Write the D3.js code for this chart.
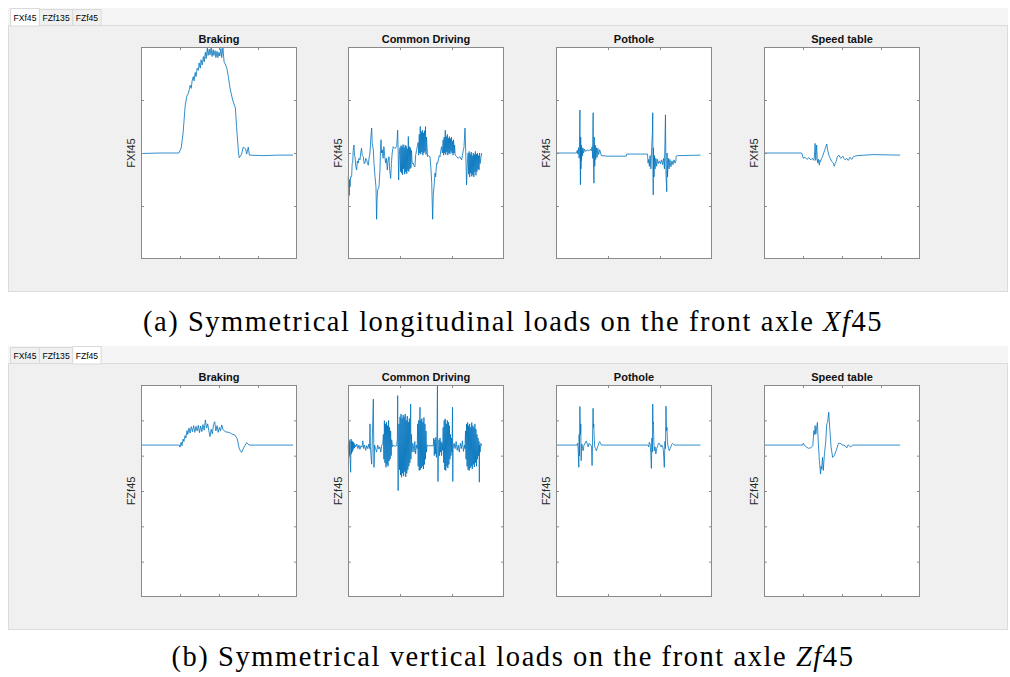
<!DOCTYPE html>
<html>
<head>
<meta charset="utf-8">
<script src="https://cdn.jsdelivr.net/npm/d3@7"></script>
<style>
  body { margin: 0; background: #fff; }
  svg { display: block; }
</style>
</head>
<body>
<div id="wrapper"></div>
<script>
// tab names and panel setup
const tabNames = ["FXf45", "FZf135", "FZf45"];
const panelTitles = ["Braking", "Common Driving", "Pothole", "Speed table"];
const xDomains = [[0, 40], [0, 300], [0, 30], [0, 40]];
const xTickValues = [[10, 20, 30], [100, 200], [10, 20], [10, 20, 30]];
const fxDomain = [-2, 2];
const fxTickValues = [-1, 0, 1];
const fzDomain = [0, 6];
const fzTickValues = [1, 2, 3, 4, 5];

// FXf45 signals  [time, load]
const fxBraking = [[0,-0.01],[5,0.0],[9.7,0.0],[10.3,0.09],[10.8,0.38],[11.3,0.87],[11.7,1.06],[12.1,1.12],[12.4,1.2],[12.6,1.28],[12.9,1.22],[13.1,1.36],[13.4,1.44],[13.6,1.36],[13.9,1.52],[14.1,1.44],[14.4,1.6],[14.7,1.56],[14.9,1.7],[15.2,1.6],[15.4,1.76],[15.7,1.66],[16.0,1.82],[16.2,1.72],[16.5,1.9],[16.7,1.78],[17.0,1.98],[17.2,1.84],[17.5,1.96],[17.7,1.85],[18.0,1.99],[18.2,1.82],[18.5,1.95],[18.7,1.84],[19.0,1.93],[19.2,1.8],[19.5,1.92],[19.7,1.8],[20.0,1.9],[20.2,1.83],[20.5,1.97],[20.7,1.8],[21.0,1.99],[21.3,1.72],[21.6,1.68],[22.0,1.60],[22.4,1.44],[22.8,1.23],[23.5,1.0],[24.2,0.85],[24.5,0.5],[25.0,0.0],[25.2,-0.09],[25.8,-0.02],[26.2,0.11],[26.8,0.08],[27.1,-0.02],[27.5,0.11],[27.8,-0.04],[31.3,-0.05],[35,-0.04],[39,-0.04]];

const fxCommon = [[0.6,-0.45],[1.0,-0.95],[1.6,-0.55],[2.4,-0.80],[3.2,-0.5],[3.8,-0.64],[5,-0.45],[7,-0.45],[8,-0.2],[9,-0.19],[10,0.05],[11.5,0.15],[12.5,-0.05],[13.5,-0.07],[15,-0.25],[16.7,-0.32],[18,-0.15],[19.9,-0.19],[21,-0.1],[23,-0.13],[24.5,0.0],[26,0.09],[27.5,-0.05],[29.5,-0.07],[31,-0.2],[32.7,-0.19],[34,-0.1],[35.9,-0.13],[37.5,-0.2],[39,-0.23],[40.5,-0.1],[42.3,0.0],[44,0.3],[45.5,0.47],[46.5,0.2],[48.7,0.06],[50,-0.2],[52,-0.45],[53.8,-0.64],[55,-1.25],[56,-0.85],[57,-0.70],[59.6,-0.64],[61.5,-0.32],[62.5,0.05],[63.5,0.25],[64.5,0.0],[66,0.06],[67.5,-0.1],[69,0.12],[70.5,-0.05],[72.4,-0.19],[74,-0.1],[75.6,-0.32],[77,-0.15],[78.8,-0.07],[80,-0.3],[82,-0.48],[83.5,-0.2],[85,0.0],[87,0.12],[90,0.09],[92,0.1],[93.6,0.12],[95.5,0.43],[96.5,0.0],[97.4,-0.51],[98.5,-0.05],
  [100,0.1],[101,-0.35],[102,0.14],[103,-0.38],[104,0.12],[105,-0.41],[106,0.16],[107,-0.3],[108,0.1],[109,-0.4],[110,0.15],[111,-0.36],[112,0.13],[113,-0.39],[114,0.08],[115,-0.33],[116,0.31],[117,-0.35],[118,0.12],[119,-0.3],[120,0.1],[121,-0.28],[122,0.05],
  [123.5,-0.2],[125.6,-0.19],[127,-0.25],[128.8,-0.26],[130,-0.05],[132,0.06],
  [135,0.2],[136,-0.04],[137,0.35],[138,0.0],[139,0.5],[140,-0.02],[141,0.4],[142,0.02],[143,0.43],[144,-0.04],[145,0.38],[146,0.0],[147,0.42],[148,0.03],[149,0.5],[150,-0.03],[151,0.3],
  [153,-0.07],[155,-0.05],[157.7,-0.07],[159.5,-0.3],[161,-0.57],[162.8,-1.25],[164,-0.8],[165.4,-0.64],[167.3,-0.38],[168.5,-0.45],[170.5,-0.19],[172,-0.2],[173.7,-0.13],[175.5,-0.05],[176.9,-0.07],[178.5,0.05],[180,0.12],[181.5,0.0],
  [183,0.25],[184,-0.04],[185,0.3],[186,0.0],[187,0.43],[188,-0.03],[189,0.31],[190,0.02],[191,0.35],[192,-0.04],[193,0.28],[194,0.0],[195,0.31],[196,-0.02],[197,0.27],[198,0.03],[199,0.3],[200,0.0],[201,0.22],[202,-0.04],[203,0.25],[204,0.0],[205,0.15],[206,-0.04],
  [207.5,-0.05],[209,-0.07],[212,-0.10],[215,-0.07],[218.6,-0.13],[220,-0.05],[221.8,0.06],[223,0.1],[225,0.47],[226.5,0.0],[228,-0.60],[229.5,-0.2],
  [231,0.0],[232,-0.4],[233,0.03],[234,-0.45],[235,-0.02],[236,-0.38],[237,0.02],[238,-0.44],[239,-0.05],[240,-0.41],[241,0.0],[242,-0.45],[243,-0.03],[244,-0.36],[245,0.03],[246,-0.42],[247,-0.02],[248,-0.35],[249,0.0],[250,-0.3],[251,-0.05],[252,-0.32],[253,0.0],[254,-0.2],[257,0.0]];

const fxPothole = [[0,0],[3.9,0.0],[4.1,0.05],[4.2,-0.02],[4.35,0.1],[4.45,-0.1],[4.55,0.35],[4.6,0.81],[4.65,-0.2],[4.7,-0.60],[4.75,0.3],[4.8,-0.3],[4.85,0.15],[4.9,-0.15],[5.0,0.1],[5.1,-0.05],[5.2,0.09],[5.3,0.0],[5.5,0.07],[5.7,0.03],[6.0,0.06],[6.3,0.04],[6.6,0.07],[6.8,0.04],[6.95,0.12],[7.05,-0.1],[7.1,0.5],[7.15,0.76],[7.2,-0.2],[7.3,-0.57],[7.35,0.3],[7.45,-0.25],[7.55,0.15],[7.65,-0.12],[7.75,0.1],[7.9,-0.08],[8.05,0.09],[8.2,-0.03],[8.4,0.06],[8.55,0.02],[8.7,-0.05],[10,-0.06],[13.5,-0.06],[13.6,-0.02],[17.6,-0.02],[17.7,-0.19],[17.85,-0.12],[17.95,-0.25],[18.1,-0.05],[18.25,-0.3],[18.4,0.1],[18.55,0.4],[18.6,0.76],[18.65,-0.3],[18.7,-0.79],[18.75,0.1],[18.85,-0.45],[18.95,-0.05],[19.05,-0.3],[19.2,-0.1],[19.35,-0.25],[19.5,-0.12],[19.7,-0.2],[19.9,-0.15],[20.1,-0.2],[20.3,-0.13],[20.5,-0.22],[20.7,-0.1],[20.85,-0.3],[20.95,0.2],[21.05,0.72],[21.15,-0.4],[21.3,-0.73],[21.35,0.0],[21.45,-0.45],[21.6,-0.1],[21.75,-0.3],[21.9,-0.12],[22.1,-0.26],[22.3,-0.15],[22.5,-0.22],[22.7,-0.13],[22.9,-0.19],[23.06,-0.15],[23.1,-0.06],[23.4,-0.05],[27.8,-0.04]];

const fxSpeed = [[0,0],[9.66,0.0],[10.1,-0.10],[10.5,-0.08],[11,-0.12],[11.5,-0.09],[12,-0.13],[12.4,-0.1],[12.8,-0.14],[13.0,0.0],[13.1,0.18],[13.2,-0.05],[13.3,-0.14],[13.4,0.05],[13.5,0.15],[13.65,-0.1],[13.8,-0.19],[14.0,-0.12],[14.2,-0.23],[14.35,-0.14],[14.5,-0.16],[14.75,-0.1],[15.0,-0.07],[15.3,0.0],[15.6,0.06],[15.85,0.12],[16.1,0.17],[16.3,0.06],[16.5,0.0],[16.75,-0.07],[17.0,-0.1],[17.35,-0.16],[17.8,-0.19],[18.0,-0.25],[18.25,-0.2],[18.5,-0.16],[18.8,-0.07],[19.2,-0.04],[19.5,-0.08],[19.7,-0.10],[20.2,-0.06],[20.5,-0.1],[20.8,-0.13],[21.2,-0.1],[21.6,-0.14],[22.05,-0.08],[22.5,-0.12],[22.9,-0.07],[23.3,-0.06],[23.8,-0.05],[28,-0.03],[34.9,-0.04]];

// FZf45 signals  [time, load]
const fzBraking = [[0,4.3],[9.83,4.3],[10.0,4.24],[10.3,4.38],[10.5,4.28],[10.8,4.47],[11.0,4.4],[11.3,4.57],[11.5,4.5],[11.8,4.71],[12.0,4.6],[12.3,4.78],[12.6,4.64],[12.9,4.82],[13.2,4.68],[13.5,4.85],[13.8,4.66],[14.1,4.83],[14.4,4.7],[14.7,4.86],[15.0,4.65],[15.3,4.84],[15.6,4.68],[15.9,4.88],[16.2,4.72],[16.5,5.01],[16.8,4.78],[17.1,4.9],[17.4,4.7],[17.7,4.54],[18.0,4.75],[18.3,4.62],[18.6,4.88],[18.9,4.96],[19.2,4.7],[19.5,4.85],[19.8,4.66],[20.1,4.8],[20.4,4.7],[20.7,4.87],[21.0,4.74],[21.3,4.71],[21.8,4.67],[22.6,4.66],[23.2,4.62],[24.1,4.58],[24.7,4.47],[25.2,4.19],[25.8,4.09],[26.4,4.24],[27.1,4.37],[27.7,4.3],[30,4.3],[39,4.3]];

const fzCommon = [[0.6,4.3],[1.3,3.95],[2,4.45],[2.7,4.0],[3.4,4.4],[4.1,3.91],[5.1,3.53],[5.8,4.47],[6.5,4.05],[7.2,4.42],[8,4.1],[8.7,4.4],[9.5,4.15],[10.2,4.38],[11,4.2],[11.8,4.35],[12.6,4.22],[13.5,4.3],
  [15,4.25],[17,4.33],[19,4.2],[21,4.3],[23,4.18],[25,4.28],[27,4.24],[28.5,4.42],[30,4.2],[32,4.3],[34,4.15],[36,4.28],[38,4.2],[40,4.33],[41.5,4.2],[42.3,4.9],[43,4.25],[45.5,3.76],[46.5,4.3],[48.7,5.6],[50,3.67],[51,4.3],[53,4.2],[55,4.1],[57,4.3],[59,4.19],[61,4.25],[63,4.1],[65,4.3],[67,4.35],
  [68,4.6],[69,3.9],[70,4.99],[71,3.8],[72,4.9],[73,3.67],[74,4.95],[75,3.75],[76,4.85],[77,3.7],[78,5.0],[79,3.85],[80,4.8],[81,3.9],[82,4.7],[83,4.0],[84,4.45],
  [85.5,4.25],[87,4.3],[90,4.27],[93.6,4.28],[95,4.5],[95.5,5.7],[96,4.2],[96.4,3.01],[96.8,4.0],
  [98,4.9],[99,3.6],[100,5.1],[101,3.45],[102,5.18],[103,3.39],[104,5.05],[105,3.5],[106,5.15],[107,3.42],[108,5.1],[109,3.55],[110,5.18],[111,3.4],[112,5.0],[113,3.5],[114,5.12],[115,3.6],[116,4.95],[117,3.7],[118,5.05],[119,3.8],[120,4.9],[120.5,5.46],[121,3.9],[122,4.6],[123,4.1],
  [124.5,4.35],[125.6,4.28],[127,4.1],[128.5,4.4],[130,4.05],[131.5,4.3],[133,4.2],
  [134,4.9],[135,3.7],[136,5.0],[137,3.58],[138,5.08],[138.5,5.37],[139,3.6],[140,5.0],[141,3.65],[142,5.05],[143,3.7],[144,4.95],[145,3.62],[146,5.08],[147,3.75],[148,4.9],[149,3.9],[150,4.7],[151,4.1],
  [152,4.3],[154.5,4.28],[164,4.28],
  [165,4.5],[166,4.0],[167,4.45],[168,4.05],[169,4.52],[170,3.95],[171,4.4],[172,5.99],[172.5,4.2],[173,3.27],[174,4.1],[175,4.45],[176,4.0],[177,4.5],[178,4.1],[179,4.4],[180,4.0],[181,4.35],[182,4.15],
  [183,4.8],[184,3.8],[185,5.0],[186,3.6],[187,5.04],[188,3.58],[189,4.9],[190,3.7],[191,5.0],[192,3.65],[193,4.95],[194,3.75],[195,4.85],[196,3.9],[197,4.6],[198,4.0],[199,4.5],[200,4.1],[201,5.37],[201.5,3.27],[202,4.2],
  [204,4.35],[206,4.2],[208,4.4],[210,4.15],[212,4.3],[214,4.1],[216,4.35],[218,4.2],[220,4.42],[222,4.12],[224,4.3],[225,4.2],
  [226,4.7],[227,3.9],[228,4.9],[229,3.7],[230,4.94],[231,3.6],[232,4.85],[233,3.58],[234,4.9],[235,3.65],[236,4.8],[237,3.7],[238,4.94],[239,3.62],[240,4.85],[241,3.75],[242,4.8],[243,3.68],[244,4.9],[245,3.8],[246,4.75],[247,3.7],[248,4.6],[249,3.9],[250,4.5],[251,4.0],[252,4.4],[252.6,3.25],[253,4.3],[254,4.1],[255.5,4.35],[257,4.28]];

const fzPothole = [[0,4.3],[4.0,4.3],[4.14,4.35],[4.25,4.2],[4.39,3.67],[4.45,4.6],[4.52,4.0],[4.59,5.39],[4.65,4.94],[4.71,4.6],[4.77,4.9],[4.84,3.86],[4.9,4.2],[4.97,4.33],[5.1,4.2],[5.22,4.14],[5.38,4.3],[5.54,4.33],[5.7,4.4],[5.86,4.41],[6.02,4.32],[6.18,4.25],[6.34,4.35],[6.5,4.33],[6.7,4.3],[6.85,4.25],[6.94,3.72],[7.03,4.5],[7.13,5.34],[7.2,4.8],[7.26,4.9],[7.35,4.5],[7.45,4.25],[7.6,4.2],[7.77,4.14],[7.93,4.22],[8.09,4.28],[8.25,4.36],[8.4,4.4],[8.56,4.35],[8.73,4.3],[17.64,4.3],[17.83,4.25],[17.95,4.38],[18.1,4.33],[18.22,4.1],[18.34,3.64],[18.45,4.5],[18.53,4.1],[18.6,5.46],[18.67,4.9],[18.73,4.94],[18.8,4.5],[18.9,4.14],[19.05,4.25],[19.2,4.05],[19.37,4.2],[19.55,4.28],[19.7,4.35],[19.87,4.35],[20.03,4.3],[20.2,4.25],[20.35,4.3],[20.5,4.28],[20.65,4.15],[20.83,3.67],[20.95,4.4],[21.05,4.2],[21.15,5.4],[21.25,4.7],[21.34,4.8],[21.43,4.4],[21.53,4.28],[21.65,4.2],[21.78,4.14],[21.94,4.2],[22.1,4.25],[22.26,4.32],[22.42,4.35],[22.58,4.33],[22.74,4.3],[27.8,4.3]];

const fzSpeed = [[0,4.3],[9.91,4.3],[10.1,4.35],[10.5,4.28],[10.9,4.24],[11.4,4.21],[12.0,4.22],[12.5,4.28],[12.8,4.71],[13.0,4.6],[13.1,4.85],[13.3,4.61],[13.5,4.8],[13.7,4.94],[13.9,4.42],[14.2,3.86],[14.5,3.48],[14.65,3.7],[14.8,3.62],[15.0,3.95],[15.2,3.58],[15.5,4.05],[15.8,4.35],[16.1,4.9],[16.3,4.94],[16.6,5.23],[16.9,4.71],[17.2,4.24],[17.6,3.95],[18.0,4.0],[18.5,4.14],[19.1,4.35],[19.5,4.35],[20.2,4.3],[20.8,4.28],[21.2,4.22],[21.6,4.31],[22.2,4.24],[22.7,4.3],[23.3,4.3],[34.9,4.3]];

const windows = [
    {top: 8, active: 0, ylabel: "FXf45", yDomain: fxDomain, yTicks: fxTickValues,
     series: [fxBraking, fxCommon, fxPothole, fxSpeed],
     caption: [["(a) Symmetrical longitudinal loads on the front axle ", false], ["X", true], ["f", true], ["45", false]],
     captionY: 331, captionW: 740},
    {top: 346, active: 2, ylabel: "FZf45", yDomain: fzDomain, yTicks: fzTickValues,
     series: [fzBraking, fzCommon, fzPothole, fzSpeed],
     caption: [["(b) Symmetrical vertical loads on the front axle ", false], ["Z", true], ["f", true], ["45", false]],
     captionY: 666, captionW: 683}
];

const dimension = {
    width: 1010,
    height: 677,
    axLeft: [141, 348, 556, 764],
    axWidth: 156,
    axTop: 39,
    axHeight: 212
};

const svg = d3.select("#wrapper")
    .append("svg")
    .attr("width", dimension.width)
    .attr("height", dimension.height);

const axisColor = "#8a8a8a";
const lineColor = "#0072BD";

function drawWindow(w) {
    const g = svg.append("g").attr("transform", `translate(0,${w.top})`);

    // tab strip + body
    g.append("rect").attr("x", 8).attr("y", 0).attr("width", 1000).attr("height", 17)
        .attr("fill", "#f5f5f5");
    g.append("rect").attr("x", 8.5).attr("y", 17.5).attr("width", 999).attr("height", 266)
        .attr("fill", "#f0f0f0").attr("stroke", "#dcdcdc");

    // tabs
    let tx = 10;
    tabNames.forEach((name, i) => {
        const tab = g.append("g");
        const label = tab.append("text")
            .attr("y", 12.5)
            .style("font-family", "Liberation Sans, Arial, sans-serif")
            .style("font-size", "8.6px")
            .attr("fill", "#000")
            .text(name);
        const tw = label.node().getComputedTextLength() + 6;
        const on = i === w.active;
        tab.insert("rect", "text")
            .attr("x", tx + 0.5).attr("y", on ? 0.5 : 1.5)
            .attr("width", tw).attr("height", on ? 17.5 : 16)
            .attr("fill", on ? "#fff" : "#f0f0f0")
            .attr("stroke", "#d9d9d9");
        label.attr("x", tx + 3.5);
        tx += tw;
    });

    // panels
    panelTitles.forEach((title, i) => {
        const x = d3.scaleLinear().domain(xDomains[i])
            .range([dimension.axLeft[i], dimension.axLeft[i] + dimension.axWidth]);
        const y = d3.scaleLinear().domain(w.yDomain)
            .range([dimension.axTop + dimension.axHeight, dimension.axTop]);

        const bounds = g.append("g");
        bounds.append("rect")
            .attr("x", x.range()[0]).attr("y", dimension.axTop)
            .attr("width", dimension.axWidth).attr("height", dimension.axHeight)
            .attr("fill", "#fff");

        const line = d3.line().x(d => x(d[0])).y(d => y(d[1]));
        bounds.append("path")
            .datum(w.series[i])
            .attr("d", line)
            .attr("fill", "none")
            .attr("stroke", lineColor)
            .attr("stroke-width", 0.8)
            .attr("stroke-linejoin", "round");

        const axes = [
            [d3.axisBottom(x).tickValues(xTickValues[i]), `translate(0,${y.range()[0]})`],
            [d3.axisTop(x).tickValues(xTickValues[i]), `translate(0,${y.range()[1]})`],
            [d3.axisLeft(y).tickValues(w.yTicks), `translate(${x.range()[0]},0)`],
            [d3.axisRight(y).tickValues(w.yTicks), `translate(${x.range()[1]},0)`]
        ];
        axes.forEach(([ax, tr]) => {
            const a = bounds.append("g").attr("transform", tr)
                .call(ax.tickSizeOuter(0).tickSizeInner(-3).tickFormat(""));
            a.select(".domain").remove();
            a.selectAll("line").attr("stroke", axisColor);
        });

        bounds.append("rect")
            .attr("x", x.range()[0] + 0.5).attr("y", dimension.axTop + 0.5)
            .attr("width", dimension.axWidth - 1).attr("height", dimension.axHeight - 1)
            .attr("fill", "none").attr("stroke", axisColor);

        bounds.append("text")
            .attr("x", x.range()[0] + dimension.axWidth / 2)
            .attr("y", dimension.axTop - 4)
            .attr("text-anchor", "middle")
            .style("font-family", "Liberation Sans, Arial, sans-serif")
            .style("font-size", "11px")
            .style("font-weight", "bold")
            .attr("fill", "#111")
            .text(title);

        bounds.append("text")
            .attr("transform", `translate(${x.range()[0] - 10},${dimension.axTop + dimension.axHeight / 2}) rotate(-90)`)
            .attr("text-anchor", "middle")
            .attr("dominant-baseline", "central")
            .style("font-family", "Liberation Sans, Arial, sans-serif")
            .style("font-size", "11px")
            .attr("fill", "#262626")
            .text(w.ylabel);
    });

    // caption, stretched to the width of the original
    const cap = svg.append("text")
        .attr("x", 513)
        .attr("y", w.captionY)
        .attr("text-anchor", "middle")
        .style("font-family", "'Liberation Serif', 'Times New Roman', serif")
        .style("font-size", "28.5px")
        .attr("fill", "#000");
    w.caption.forEach(([t, it]) => {
        cap.append("tspan").style("font-style", it ? "italic" : "normal").text(t);
    });
    const cw = cap.node().getComputedTextLength();
    const nChars = w.caption.map(c => c[0]).join("").length;
    cap.style("letter-spacing", `${(w.captionW - cw) / nChars}px`);
}

windows.forEach(drawWindow);
</script>
</body>
</html>
